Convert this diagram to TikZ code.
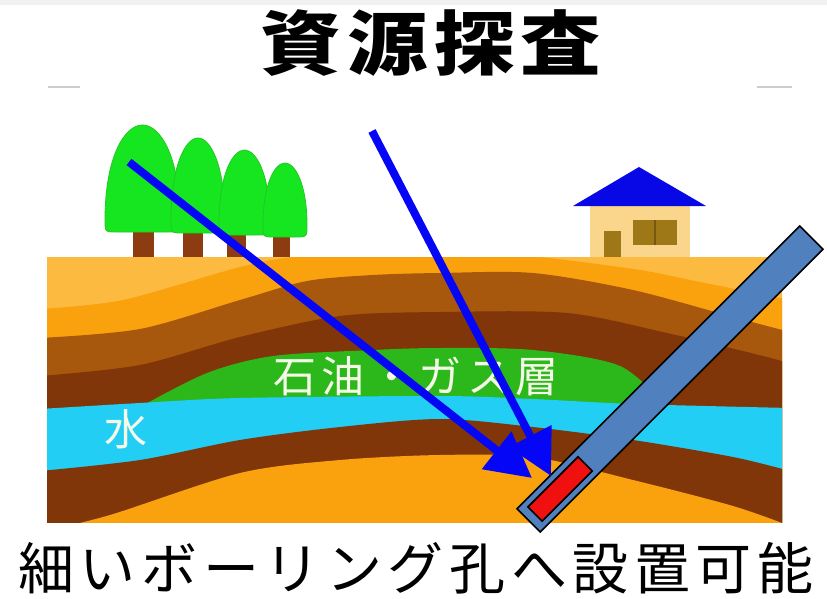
\documentclass[tikz,border=0pt]{standalone}
\usepackage{fontspec}
\newfontfamily\jp{Noto Sans CJK JP}
\usetikzlibrary{arrows.meta,calc}

% palette
\definecolor{bandgrey}{RGB}{241,241,241}
\definecolor{tickgrey}{RGB}{205,205,205}
\definecolor{soilLight}{RGB}{252,187,64}
\definecolor{soilOrange}{RGB}{250,162,14}
\definecolor{soilBrown}{RGB}{168,88,12}
\definecolor{soilDark}{RGB}{128,54,8}
\definecolor{oilGreen}{RGB}{44,184,26}
\definecolor{water}{RGB}{34,206,244}
\definecolor{leaf}{RGB}{22,230,32}
\definecolor{leafEdge}{RGB}{34,200,34}
\definecolor{trunk}{RGB}{140,60,16}
\definecolor{roof}{RGB}{8,8,230}
\definecolor{wall}{RGB}{250,214,140}
\definecolor{wood}{RGB}{158,120,22}
\definecolor{woodDark}{RGB}{120,88,14}
\definecolor{probe}{RGB}{80,128,190}
\definecolor{sensor}{RGB}{240,16,16}
\definecolor{ray}{RGB}{6,6,246}
\definecolor{labelwhite}{RGB}{244,249,232}

% crown of a tree: left x, right x, top y, bottom y
\newcommand\treecrown[4]{%
  \fill[leaf, draw=leafEdge, line width=0.8pt]
    (#1,#4-12) .. controls (#1,{#3+0.3*(#4-#3)}) and ({#1+0.26*(#2-#1)},#3) .. ({(#1+#2)/2},#3)
    .. controls ({#2-0.26*(#2-#1)},#3) and (#2,{#3+0.3*(#4-#3)}) .. (#2,#4-12)
    .. controls (#2,#4) .. (#2-12,#4) -- (#1+12,#4) .. controls (#1,#4) .. (#1,#4-12) -- cycle;}

\begin{document}
\begin{tikzpicture}[x=1pt,y=-1pt,
  lbl/.style={inner sep=0pt, outer sep=0pt},
  tubebox/.style={draw=black, line width=1.6pt, fill=probe, inner sep=0pt, outer sep=0pt},
  sensorbox/.style={draw=black, line width=1.6pt, fill=sensor, inner sep=0pt, outer sep=0pt},
  rayarrow/.style={draw=ray, line width=8pt, -{Triangle[length=45pt,width=46pt]}},
  faint/.style={draw=tickgrey, line width=1.5pt}]

\useasboundingbox (0,0) rectangle (827,599);
\fill[white] (0,0) rectangle (827,599);
\fill[bandgrey] (0,0) rectangle (827,5);
\draw[faint] (48,87) -- (80,87);
\draw[faint] (757,87) -- (792,87);

% heading
\node[lbl, font=\jp\bfseries\fontsize{70}{70}\selectfont\addfontfeature{FakeStretch=1.15,LetterSpace=9}] (title) at (431,43) {資源探査};

% trees
\foreach \l/\r in {133/154, 183/203, 227/246, 273/290}
  \fill[trunk] (\l,226) rectangle (\r,258);
\treecrown{105}{180}{125}{232}
\treecrown{171}{225}{138}{233}
\treecrown{219}{270}{150}{235}
\treecrown{263}{307}{163}{237}

% house
\fill[wall] (590,204) rectangle (690,258);
\fill[roof] (573,206) -- (639,167) -- (706,206) -- cycle;
\fill[wood] (604,231) rectangle (621,258);
\fill[wood] (633,220) rectangle (677,245);
\draw[woodDark, line width=1.5pt] (655,220) -- (655,245);

% strata
\begin{scope}
  \clip (47,257) rectangle (782,522);
  \fill[soilLight] (40,250) rectangle (790,530);
  \fill[soilOrange] plot[smooth] coordinates {(40,309) (123,300) (240,267) (300,256) (420,246) (540,257) (640,270) (700,282) (790,300)}
    -- (790,540) -- (40,540) -- cycle;
  \fill[soilBrown] plot[smooth] coordinates {(40,338) (140,329) (240,300) (307,281) (373,275) (440,273) (533,273) (633,290) (733,317) (790,332)}
    -- (790,540) -- (40,540) -- cycle;
  \fill[soilDark] plot[smooth] coordinates {(40,376) (140,365) (240,337) (340,316) (440,312) (567,313) (667,333) (767,357) (790,364)}
    -- (790,540) -- (40,540) -- cycle;
  \fill[oilGreen] plot[smooth] coordinates {(140,407) (207,373) (273,356) (373,350) (440,348) (533,350) (620,366) (668,408)} -- cycle;
  \fill[water] plot[smooth] coordinates {(40,409) (140,403) (240,398) (440,396) (533,399) (633,404) (790,408)}
    -- (790,540) -- (40,540) -- cycle;
  \fill[soilDark] plot[smooth] coordinates {(40,471) (140,460) (240,440) (340,427) (440,419) (533,427) (633,440) (733,457) (790,471)}
    -- (790,540) -- (40,540) -- cycle;
  \fill[soilOrange] plot[smooth] coordinates {(40,532) (110,515) (240,473) (340,460) (440,455) (533,457) (633,480) (733,506) (790,526)}
    -- (790,540) -- (40,540) -- cycle;
\end{scope}

% layer labels
\node[lbl, text=labelwhite, font=\jp\fontsize{43}{43}\selectfont\addfontfeature{LetterSpace=13}] (oil) at (416,376) {石油・ガス層};
\node[lbl, text=labelwhite, font=\jp\fontsize{43}{43}\selectfont] (waterlbl) at (126,429) {水};

% borehole probe with sensor
\node[tubebox, minimum width=400pt, minimum height=33pt, rotate=45] (tube) at (670,379) {};
\node[sensorbox, minimum width=71pt, minimum height=20pt, rotate=45] (sensorbox) at ($(tube.west)!44.5pt!(tube.east)$) {};

% incoming rays
\coordinate (rayA) at (129,162);
\coordinate (hitA) at (532,478);
\coordinate (rayB) at (372,131);
\coordinate (hitB) at (551,476);
\draw[rayarrow] (rayA) -- (hitA);
\draw[rayarrow] (rayB) -- (hitB);

% caption
\node[lbl, font=\jp\fontsize{56}{56}\selectfont\addfontfeature{LetterSpace=10}] (caption) at (416,568) {細いボーリング孔へ設置可能};
\end{tikzpicture}
\end{document}
